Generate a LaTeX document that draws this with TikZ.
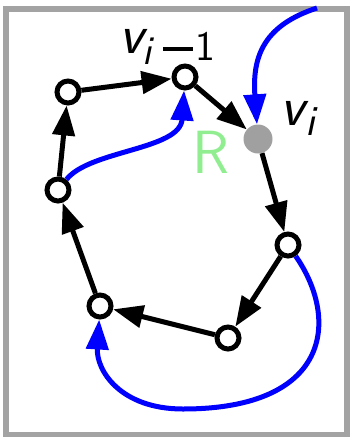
\documentclass[tikz,border=0pt]{standalone}
\usepackage{fontspec}
\usetikzlibrary{arrows.meta}
\definecolor{framegray}{RGB}{163,163,163}
\definecolor{nodegray}{RGB}{160,160,160}
\definecolor{rgreen}{RGB}{144,238,144}
\begin{document}
\begin{tikzpicture}[x=1pt,y=-1pt,
  vtx/.style={circle,draw=black,fill=white,line width=5pt,minimum size=22pt,inner sep=0pt},
  cur/.style={circle,fill=nodegray,minimum size=29pt,inner sep=0pt},
  edgearrow/.style={line width=5pt,-{Triangle[length=30pt,width=22pt]}},
  bluearrow/.style={line width=5pt,blue,-{Triangle[length=30pt,width=22pt]}},
  lbl/.style={inner sep=0pt,anchor=base west,font=\sffamily}
]
\useasboundingbox (0,0) rectangle (351,437);
\draw[framegray,line width=6pt] (5.5,8.5) rectangle (346.5,434.5);

\node[vtx] (A) at (68,92) {};
\node[vtx] (B) at (185,77) {};
\node[cur] (C) at (258,139) {};
\node[vtx] (D) at (288,245) {};
\node[vtx] (E) at (228,338) {};
\node[vtx] (F) at (100,306) {};
\node[vtx] (G) at (58,190) {};
\coordinate (S) at (317,8);

\draw[edgearrow] (A) -- (B);
\draw[edgearrow] (B) -- (C);
\draw[edgearrow] (C) -- (D);
\draw[edgearrow] (D) -- (E);
\draw[edgearrow] (E) -- (F);
\draw[edgearrow] (F) -- (G);
\draw[edgearrow] (G) -- (A);

\draw[bluearrow] (S) .. controls (265,25) and (252,55) .. (C);
\draw[bluearrow] (G) .. controls (90,150) and (180,150) .. (B);
\draw[bluearrow] (D) .. controls (340,320) and (330,409) .. (183,409)
  .. controls (120,409) and (96,370) .. (F);

\node[lbl] (L1v) at (119,53) {\fontsize{56}{60}\selectfont\itshape v};
\node[lbl] (L1i) at (142,64) {\fontsize{41}{44}\selectfont\itshape i};
\node[lbl] (L1m) at (163,50.5) {\rule{30pt}{3.5pt}};
\node[lbl] (L1n) at (195,60.5) {\fontsize{42}{45}\selectfont 1};
\node[lbl] (L2v) at (280,125) {\fontsize{56}{60}\selectfont\itshape v};
\node[lbl] (L2i) at (305,135) {\fontsize{43}{46}\selectfont\itshape i};
\node[lbl,text=rgreen] (R) at (192,173) {\fontsize{61}{64}\selectfont R};
\end{tikzpicture}
\end{document}
